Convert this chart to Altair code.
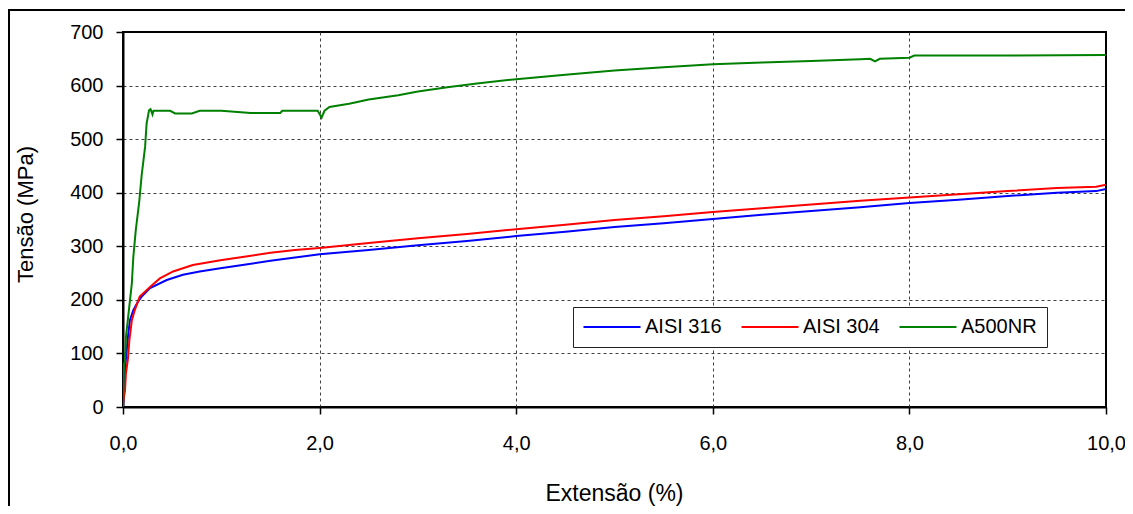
import altair as alt
import pandas as pd

series_names = ["AISI 316", "AISI 304", "A500NR"]
series_colors = ["#0000FF", "#FF0000", "#008000"]

x_ticks = [0, 2, 4, 6, 8, 10]
y_ticks = [0, 100, 200, 300, 400, 500, 600, 700]

aisi316_x = [0.00, 0.01, 0.03, 0.05, 0.07, 0.105, 0.15, 0.19, 0.275, 0.445, 0.61, 0.78, 0.99,
             1.25, 1.50, 1.75, 2.00, 2.50, 3.00, 3.50, 4.00, 4.50, 5.00, 5.50, 6.00, 6.50,
             7.00, 7.50, 8.00, 8.50, 9.00, 9.50, 9.90, 10.00]
aisi316_y = [0, 40, 90, 130, 162, 181, 196, 206, 222, 237, 247, 253, 259,
             266, 273, 279, 285, 293, 302, 310, 319, 327, 336, 343, 351, 359,
             366, 373, 381, 387, 394, 400, 403, 407]

aisi304_x = [0.00, 0.005, 0.02, 0.03, 0.05, 0.065, 0.09, 0.12, 0.17, 0.275, 0.375, 0.51, 0.71,
             0.99, 1.25, 1.50, 1.75, 2.00, 2.50, 3.00, 3.50, 4.00, 4.50, 5.00, 5.50, 6.00,
             6.50, 7.00, 7.50, 8.00, 8.50, 9.00, 9.50, 9.90, 10.00]
aisi304_y = [5, 13, 30, 63, 90, 125, 162, 181, 206, 224, 240, 253, 265,
             274, 281, 288, 293, 297, 306, 315, 323, 332, 340, 349, 356, 364,
             371, 378, 385, 391, 397, 403, 409, 411, 415]

a500nr_x = [0.00, 0.005, 0.01, 0.02, 0.03, 0.06, 0.09, 0.105, 0.13, 0.165, 0.19, 0.225, 0.24,
            0.265, 0.28, 0.30, 0.31, 0.48, 0.53, 0.70, 0.78, 1.00, 1.30, 1.60, 1.62, 1.98,
            2.00, 2.02, 2.05, 2.10, 2.30, 2.50, 2.80, 3.00, 3.30, 3.60, 4.00, 4.50, 5.00,
            5.50, 6.00, 6.50, 7.00, 7.50, 7.60, 7.65, 7.70, 8.00, 8.05, 9.00, 10.00]
a500nr_y = [0, 40, 80, 85, 131, 181, 231, 280, 330, 383, 433, 486, 529,
            554, 556, 546, 553, 553, 548, 548, 553, 553, 549, 549, 553, 553,
            547, 540, 553, 560, 566, 574, 582, 589, 597, 604, 612, 620, 628,
            634, 640, 643, 646, 649, 650, 645, 650, 652, 656, 656, 657]

rows = []
for name, xs, ys in [(series_names[0], aisi316_x, aisi316_y),
                     (series_names[1], aisi304_x, aisi304_y),
                     (series_names[2], a500nr_x, a500nr_y)]:
    for i, (xv, yv) in enumerate(zip(xs, ys)):
        rows.append({"serie": name, "ext": xv, "tensao": yv, "ordem": i})
df = pd.DataFrame(rows)

FONT = "Liberation Sans"

x_axis = alt.Axis(
    title="Extensão (%)", values=x_ticks,
    labelExpr="replace(format(datum.value, '.1f'), '.', ',')",
    grid=True, gridColor="#404040", gridDash=[3, 3], gridWidth=1,
    gridOpacity={"condition": {"test": "datum.value === 0 || datum.value === 10", "value": 0}, "value": 1},
    domainColor="black", domainWidth=2, tickColor="black", tickWidth=1.5, tickSize=7,
    labelFont=FONT, labelFontSize=20, labelColor="black", labelPadding=19,
    labelOverlap=False, labelFlush=False,
    titleFont=FONT, titleFontSize=23, titleFontWeight="normal", titleColor="black",
    titleX=491, titleY=93, titleBaseline="alphabetic", titleAlign="center",
)
y_axis = alt.Axis(
    title="Tensão (MPa)", values=y_ticks,
    grid=True, gridColor="#404040", gridDash=[3, 3], gridWidth=1,
    gridOpacity={"condition": {"test": "datum.value === 0 || datum.value === 700", "value": 0}, "value": 1},
    domainColor="black", domainWidth=2, tickColor="black", tickWidth=1.5, tickSize=7,
    labelFont=FONT, labelFontSize=20, labelColor="black", labelPadding=13,
    labelOverlap=False, labelFlush=False,
    titleFont=FONT, titleFontSize=22, titleFontWeight="normal", titleColor="black",
    titleX=-98, titleY=182, titleBaseline="middle", titleAlign="center", titleAngle=-90,
)

legend = alt.Legend(
    title=None, orient="none", legendX=450, legendY=275, direction="horizontal", columns=3,
    symbolType="M-5,0H5", symbolSize=130, symbolStrokeWidth=2, symbolOffset=19,
    labelOffset=23, labelFont=FONT, labelFontSize=20, labelColor="black",
    padding=10, strokeColor="#222222", fillColor="white", columnPadding=15,
)

lines = alt.Chart(df).mark_line(strokeWidth=2, clip=True).encode(
    x=alt.X("ext:Q", scale=alt.Scale(domain=[0, 10], nice=False), axis=x_axis),
    y=alt.Y("tensao:Q", scale=alt.Scale(domain=[0, 700], nice=False), axis=y_axis),
    color=alt.Color("serie:N", scale=alt.Scale(domain=series_names, range=series_colors),
                    sort=series_names, legend=legend),
    order="ordem:Q",
)

dummy = pd.DataFrame({"k": [0]})
border_top = alt.Chart(dummy).mark_rule(color="black", strokeWidth=2).encode(
    x=alt.value(-115), x2=alt.value(1002), y=alt.value(-22))
border_left = alt.Chart(dummy).mark_rule(color="black", strokeWidth=2).encode(
    x=alt.value(-114), y=alt.value(-22), y2=alt.value(474))

chart = alt.layer(lines, border_top, border_left).properties(
    width=983, height=375,
    autosize=alt.AutoSizeParams(type="none"),
    padding={"left": 115, "top": 24, "right": 19, "bottom": 99},
    background="white",
).configure_view(stroke="black", strokeWidth=2)

chart.save("out.html", embed_options={"renderer": "svg", "actions": False})
